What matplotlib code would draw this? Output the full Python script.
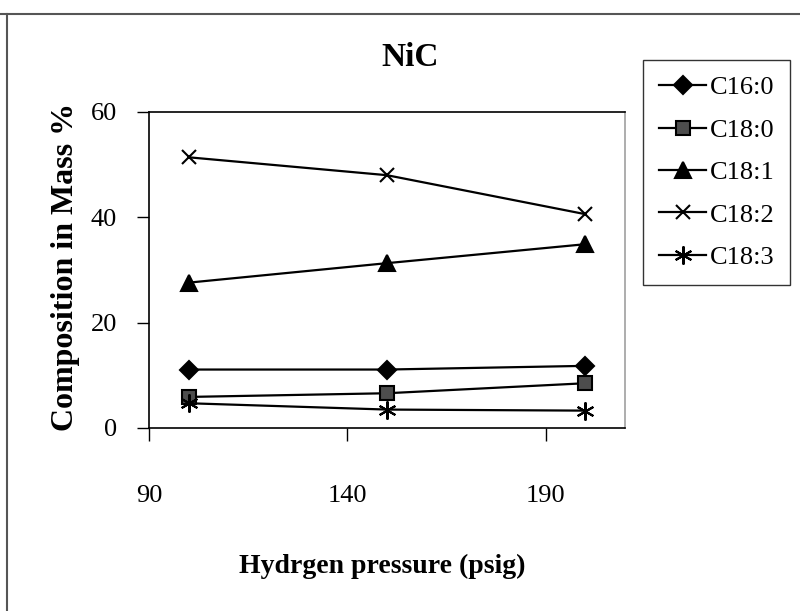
import matplotlib
matplotlib.use("Agg")
import matplotlib.pyplot as plt
from matplotlib.lines import Line2D

plt.rcParams['font.family'] = ['Liberation Serif', 'DejaVu Serif']

pressure = [100, 150, 200]
c16_0 = [11.1, 11.1, 11.8]
c18_0 = [5.9, 6.6, 8.5]
c18_1 = [27.6, 31.3, 34.9]
c18_2 = [51.4, 48.0, 40.6]
c18_3 = [4.7, 3.5, 3.3]

names = ['C16:0', 'C18:0', 'C18:1', 'C18:2', 'C18:3']
series = [c16_0, c18_0, c18_1, c18_2, c18_3]
# marker, size, face colour for each fatty acid
styles = [('D', 9.5, 'black'),
          ('s', 9.5, '#4d4d4d'),
          ('^', 11, 'black'),
          ('x', 10.5, 'black'),
          ((6, 2, 0), 13, 'black')]

fig = plt.figure(figsize=(8, 6.11), dpi=100)
ax = fig.add_axes([149 / 800, 1 - 428 / 611, 476 / 800, 316 / 611])

for vals, name, (mk, ms, fc) in zip(series, names, styles):
    ax.plot(pressure, vals, color='black', lw=1.6, marker=mk, markersize=ms,
            markerfacecolor=fc, markeredgecolor='black', markeredgewidth=1.5,
            label=name)

ax.set_xlim(90, 210)
ax.set_ylim(0, 60)
ax.set_xticks([90, 140, 190])
ax.set_yticks([0, 20, 40, 60])
ax.tick_params(axis='both', direction='out', length=9, width=1, labelsize=19)
ax.tick_params(axis='x', pad=32)
ax.tick_params(axis='y', pad=14)
for s in ['left', 'bottom', 'top']:
    ax.spines[s].set_color('black')
    ax.spines[s].set_linewidth(1.2)
ax.spines['right'].set_color('#a0a0a0')
ax.spines['right'].set_linewidth(1.2)

fig.text(410 / 800, 1 - 58 / 611, 'NiC', ha='center', va='center',
         fontsize=24, fontweight='bold')
fig.text(382 / 800, 1 - 566 / 611, 'Hydrgen pressure (psig)', ha='center',
         va='center', fontsize=20, fontweight='bold')
fig.text(66 / 800, 1 - 267 / 611, 'Composition in Mass %', ha='center',
         va='center', rotation=90, fontsize=23, fontweight='bold')

leg = fig.legend(loc='upper left', bbox_to_anchor=(643 / 800, 1 - 60 / 611),
                 fontsize=19, frameon=True, fancybox=False, borderpad=0.6,
                 handlelength=1.8, handletextpad=0.12, labelspacing=0.72,
                 borderaxespad=0)
leg.get_frame().set_edgecolor('black')
leg.get_frame().set_linewidth(1.0)

# outer chart frame (top and left edges)
fig.add_artist(Line2D([0, 1], [1 - 14 / 611, 1 - 14 / 611], color='#555555', lw=1.5))
fig.add_artist(Line2D([7 / 800, 7 / 800], [0, 1 - 14 / 611], color='#555555', lw=1.5))

fig.savefig('out.png', dpi=100)
